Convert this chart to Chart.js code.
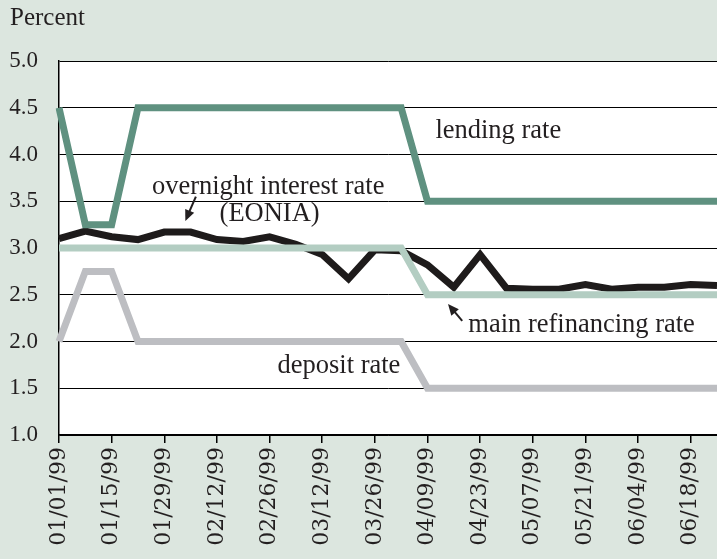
<!DOCTYPE html>
<html>
<head>
<meta charset="utf-8">
<script src="https://cdn.jsdelivr.net/npm/chart.js@4/dist/chart.umd.min.js"></script>
<style>
  html, body { margin: 0; padding: 0; background: #dce6df; }
  #rates { display: block; }
</style>
</head>
<body>
<canvas id="rates" width="717" height="559"></canvas>
<script>
// weekly observations, Jan - Jun 1999
const weeks = ['01/01/99', '01/08/99', '01/15/99', '01/22/99', '01/29/99', '02/05/99', '02/12/99',
  '02/19/99', '02/26/99', '03/05/99', '03/12/99', '03/19/99', '03/26/99', '04/02/99', '04/09/99',
  '04/16/99', '04/23/99', '04/30/99', '05/07/99', '05/14/99', '05/21/99', '05/28/99', '06/04/99',
  '06/11/99', '06/18/99', '06/25/99'];

const lendingRate = [4.5, 3.25, 3.25, 4.5, 4.5, 4.5, 4.5, 4.5, 4.5, 4.5, 4.5, 4.5, 4.5, 4.5,
  3.5, 3.5, 3.5, 3.5, 3.5, 3.5, 3.5, 3.5, 3.5, 3.5, 3.5, 3.5];
const refiRate = [3.0, 3.0, 3.0, 3.0, 3.0, 3.0, 3.0, 3.0, 3.0, 3.0, 3.0, 3.0, 3.0, 3.0,
  2.5, 2.5, 2.5, 2.5, 2.5, 2.5, 2.5, 2.5, 2.5, 2.5, 2.5, 2.5];
const depositRate = [2.0, 2.75, 2.75, 2.0, 2.0, 2.0, 2.0, 2.0, 2.0, 2.0, 2.0, 2.0, 2.0, 2.0,
  1.5, 1.5, 1.5, 1.5, 1.5, 1.5, 1.5, 1.5, 1.5, 1.5, 1.5, 1.5];
const eonia = [3.10, 3.18, 3.12, 3.09, 3.17, 3.17, 3.09, 3.07, 3.12, 3.04, 2.93, 2.67, 2.98, 2.97,
  2.82, 2.58, 2.93, 2.57, 2.56, 2.56, 2.61, 2.56, 2.58, 2.58, 2.61, 2.60];

const yTicks = [1.0, 1.5, 2.0, 2.5, 3.0, 3.5, 4.0, 4.5, 5.0];

const serif = '"Liberation Serif", "Times New Roman", serif';
const ink = '#231f20';

// text labels placed in data units (week index, percent)
const notes = [
  { text: 'lending rate', x: 14.3, y: 4.25 },
  { text: 'overnight interest rate', x: 3.53, y: 3.65 },
  { text: '(EONIA)', x: 6.1, y: 3.36 },
  { text: 'main refinancing rate', x: 15.55, y: 2.18 },
  { text: 'deposit rate', x: 8.3, y: 1.74 }
];
const arrows = [
  { from: [5.2, 3.55], to: [4.8, 3.29] },
  { from: [15.32, 2.22], to: [14.78, 2.40] }
];

const annotate = {
  id: 'annotate',
  afterDatasetsDraw(chart) {
    const { ctx, scales: { x, y } } = chart;
    ctx.save();
    ctx.fillStyle = ink;
    ctx.font = '26.5px ' + serif;
    ctx.textAlign = 'left';
    ctx.textBaseline = 'middle';
    notes.forEach(n => ctx.fillText(n.text, x.getPixelForValue(n.x), y.getPixelForValue(n.y)));

    ctx.strokeStyle = ink;
    ctx.lineWidth = 2;
    arrows.forEach(a => {
      const x0 = x.getPixelForValue(a.from[0]), y0 = y.getPixelForValue(a.from[1]);
      const x1 = x.getPixelForValue(a.to[0]), y1 = y.getPixelForValue(a.to[1]);
      const ang = Math.atan2(y1 - y0, x1 - x0);
      const hx = x1 - 9 * Math.cos(ang), hy = y1 - 9 * Math.sin(ang);
      ctx.beginPath();
      ctx.moveTo(x0, y0);
      ctx.lineTo(hx, hy);
      ctx.stroke();
      ctx.beginPath();
      ctx.moveTo(x1, y1);
      ctx.lineTo(x1 - 12 * Math.cos(ang - 0.42), y1 - 12 * Math.sin(ang - 0.42));
      ctx.lineTo(x1 - 12 * Math.cos(ang + 0.42), y1 - 12 * Math.sin(ang + 0.42));
      ctx.closePath();
      ctx.fill();
    });

    ctx.font = '25px ' + serif;
    ctx.fillText('Percent', 10, 18);
    ctx.restore();
  }
};

const whitePlot = {
  id: 'whitePlot',
  beforeDraw(chart) {
    const { ctx, chartArea: a } = chart;
    ctx.save();
    ctx.fillStyle = '#dce6df';
    ctx.fillRect(0, 0, chart.width, chart.height);
    ctx.fillStyle = '#ffffff';
    ctx.fillRect(a.left, a.top, a.right - a.left, a.bottom - a.top);
    ctx.restore();
  }
};

const line = (data, color, order) => ({
  data,
  borderColor: color,
  borderWidth: 7,
  pointRadius: 0,
  tension: 0,
  borderJoinStyle: 'miter',
  fill: false,
  order
});

new Chart(document.getElementById('rates'), {
  type: 'line',
  data: {
    labels: weeks,
    datasets: [
      line(lendingRate, '#5f9180', 1),
      line(refiRate, '#b3cdc2', 2),
      line(eonia, '#1e1b1b', 3),
      line(depositRate, '#bdbec2', 4)
    ]
  },
  options: {
    responsive: false,
    animation: false,
    layout: { padding: { top: 61, left: 0, right: 0, bottom: 0 } },
    plugins: { legend: { display: false }, tooltip: { enabled: false } },
    scales: {
      x: {
        offset: false,
        grid: {
          drawOnChartArea: false,
          drawTicks: true,
          tickLength: 8,
          lineWidth: 1.5,
          color: c => (c.index % 2 === 0 ? '#000' : 'rgba(0,0,0,0)')
        },
        border: { display: true, color: '#000', width: 1.5 },
        ticks: {
          autoSkip: false,
          minRotation: 90,
          maxRotation: 90,
          padding: 4,
          color: ink,
          font: { family: '"DejaVu Serif", serif', size: 22 },
          callback: (v, i) => (i % 2 === 0 ? weeks[i] : '')
        },
        afterFit: s => { s.height = 124; s.paddingLeft = 0; s.paddingRight = 0; }
      },
      y: {
        min: 1,
        max: 5,
        afterBuildTicks: s => { s.ticks = yTicks.map(v => ({ value: v })); },
        grid: { color: '#000', lineWidth: 1, drawTicks: false },
        border: { display: true, color: '#000', width: 1.5 },
        ticks: {
          padding: 21,
          color: ink,
          font: { family: serif, size: 23 },
          callback: v => v.toFixed(1)
        },
        afterFit: s => { s.width = 59; s.paddingTop = 0; s.paddingBottom = 0; }
      }
    }
  },
  plugins: [whitePlot, annotate]
});
</script>
</body>
</html>
